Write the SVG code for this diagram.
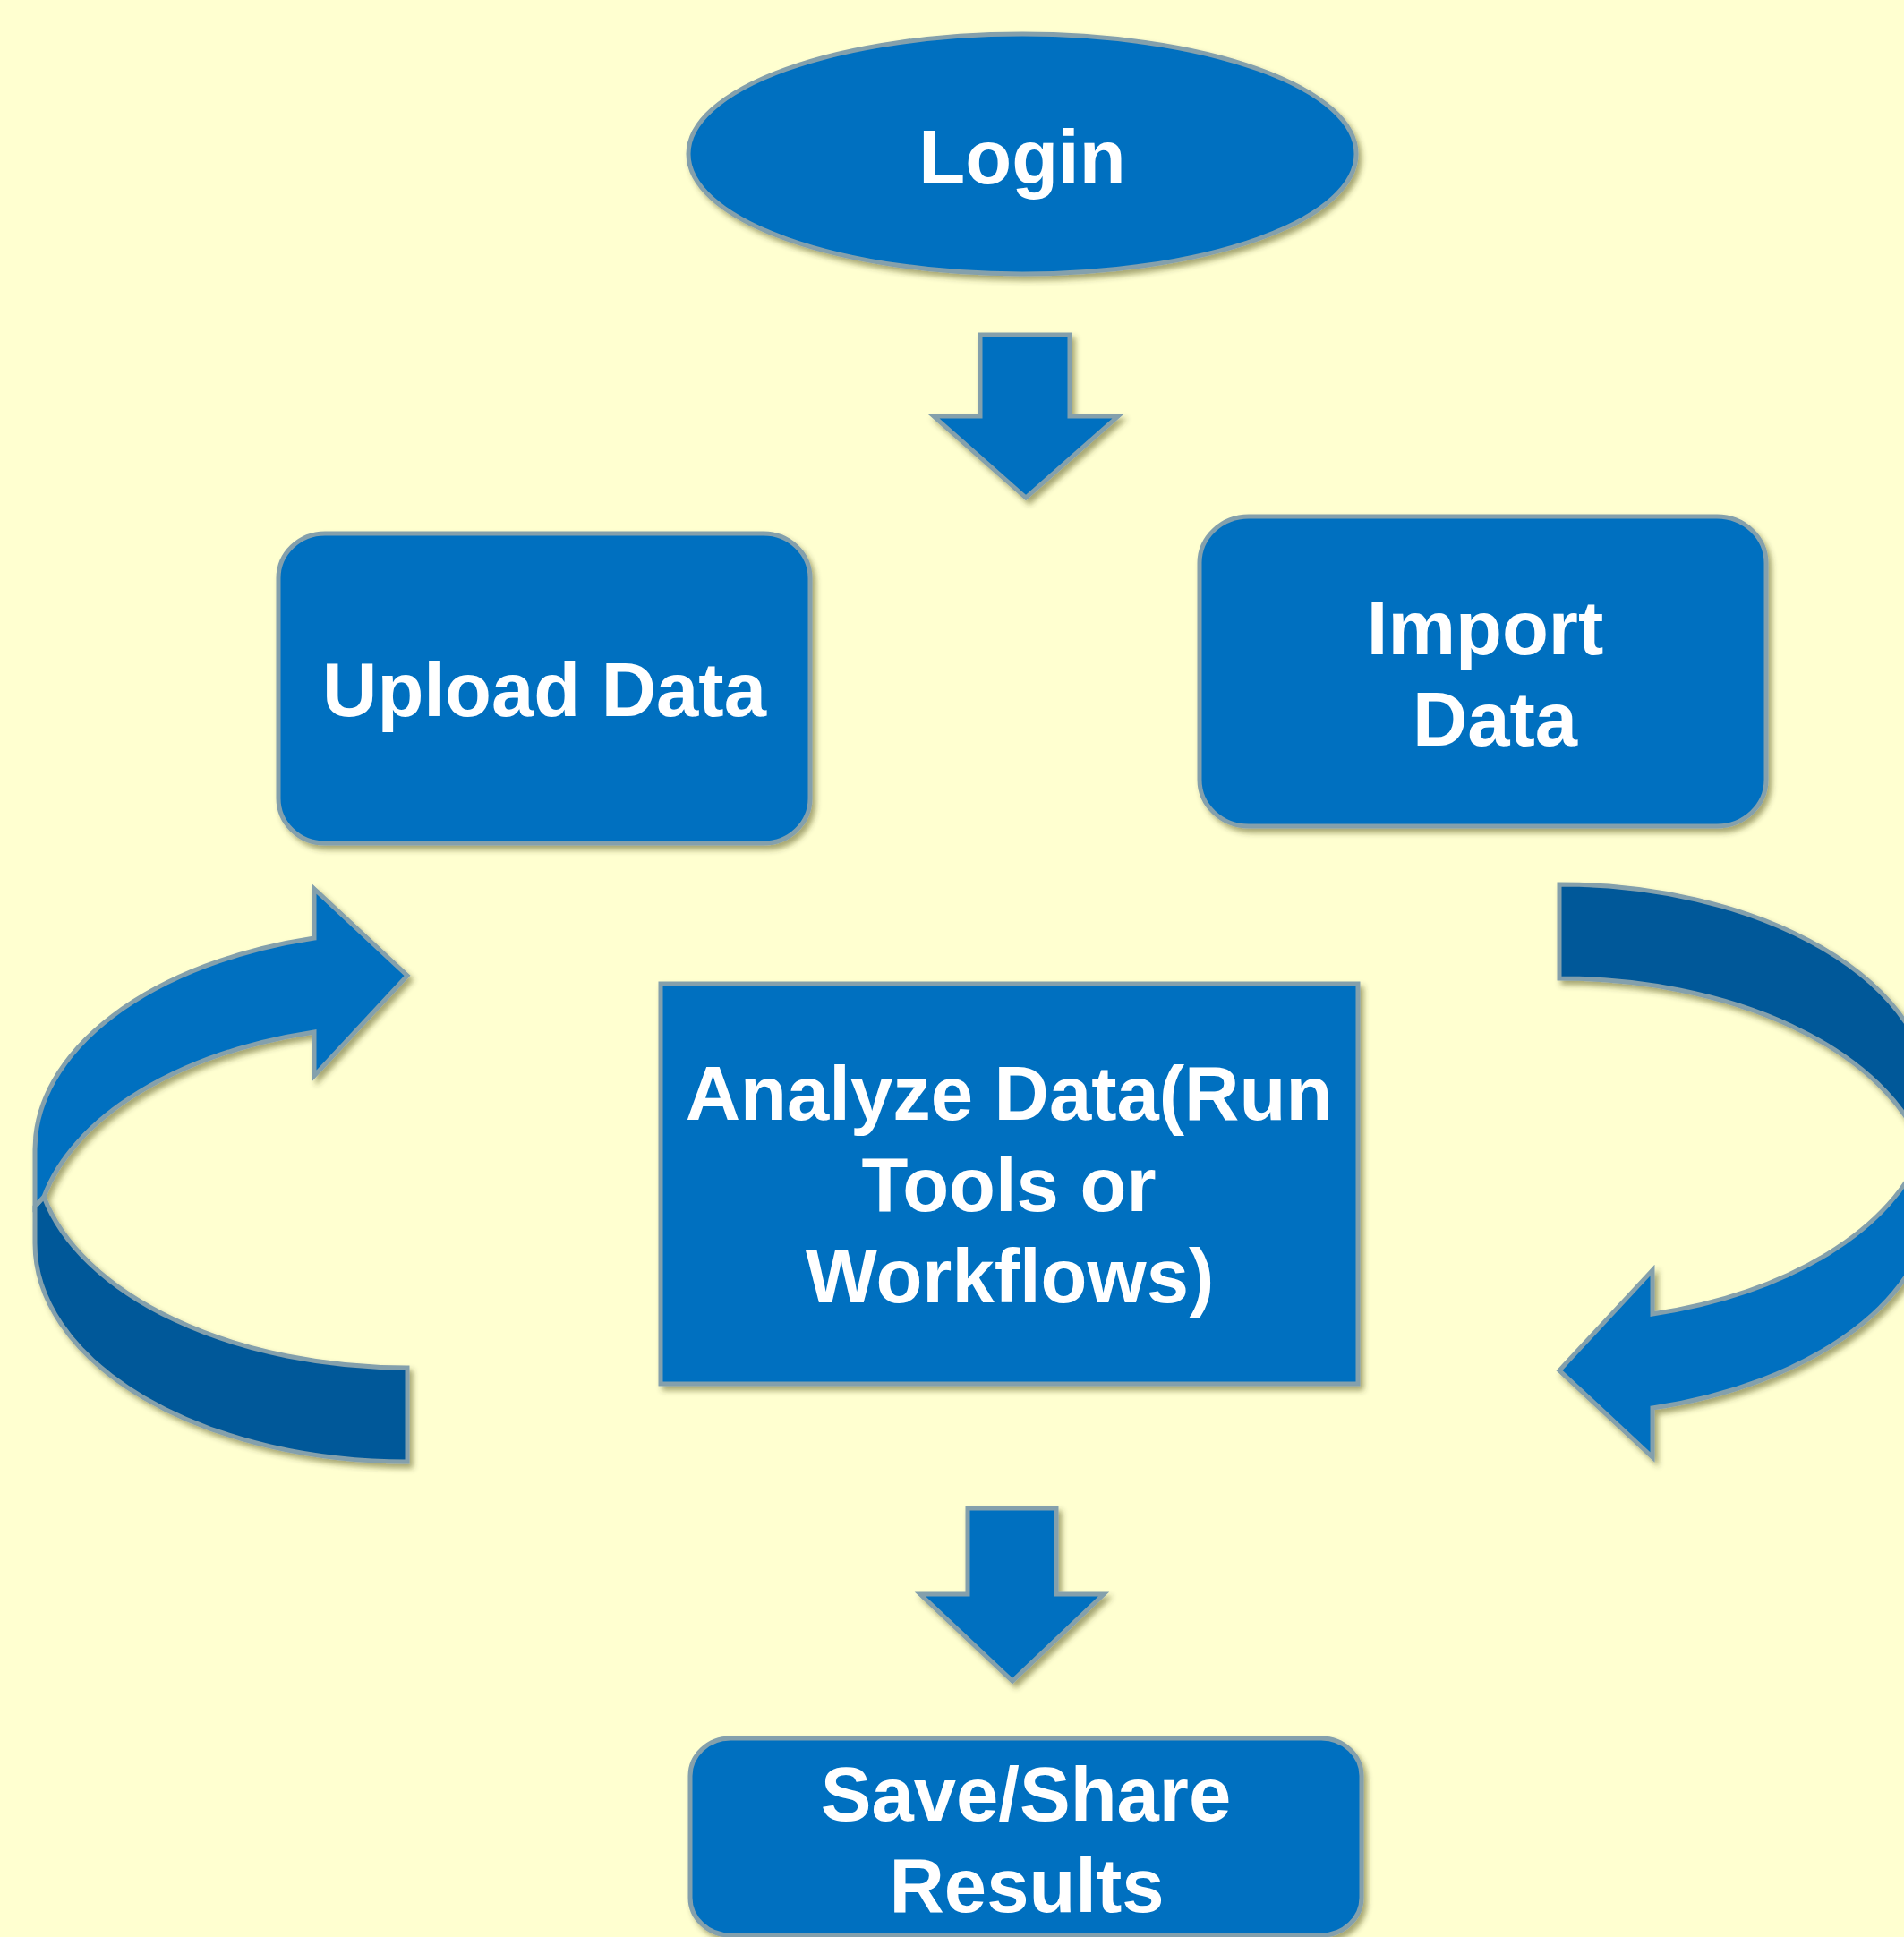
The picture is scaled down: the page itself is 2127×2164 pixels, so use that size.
<svg xmlns="http://www.w3.org/2000/svg" width="2127" height="2164" viewBox="0 0 2127 2164">
  <defs>
    <style>
      .node { fill: #0070C0; stroke: #84A0AC; stroke-width: 5; }
      .dark { fill: #025899; stroke: #84A0AC; stroke-width: 5; stroke-linejoin: miter; }
      .light { fill: #0070C0; stroke: #84A0AC; stroke-width: 5; stroke-linejoin: miter; }
      .lbl { fill: #FFFFFF; font-family: "Liberation Sans", Arial, sans-serif; font-weight: bold; font-size: 85px; text-anchor: middle; }
    </style>
    <filter id="sh" x="-10%" y="-10%" width="125%" height="125%">
      <feDropShadow dx="4" dy="5" stdDeviation="3" flood-color="#3a3a10" flood-opacity="0.45"/>
    </filter>
  </defs>

  <rect x="0" y="0" width="2127" height="2164" fill="#FFFFD0"/>

  <g id="connectors">
    <g id="arrow-login-down" filter="url(#sh)">
      <path class="light" d="M1095,374 L1195,374 L1195,465 L1249,465 L1146,556 L1043,465 L1095,465 Z"/>
    </g>
    <g id="arrow-analyze-down" filter="url(#sh)">
      <path class="light" d="M1081,1685 L1180,1685 L1180,1781 L1233,1781 L1131,1878 L1028,1781 L1081,1781 Z"/>
    </g>
    <g id="curved-left" filter="url(#sh)">
      <path class="dark" d="M49,1337 A416,244 0 0 0 455,1528 L455,1633 A416,244 0 0 1 39,1389 L39,1348 Z"/>
      <path class="light" d="M39,1348 L39,1284 A416,244 0 0 1 351,1048 L351,993 L455,1090 L351,1202 L351,1153 A416,244 0 0 0 49,1337 Z"/>
    </g>
    <g id="curved-right" filter="url(#sh)">
      <g transform="rotate(180 1098.5 1310.5)">
        <path class="dark" d="M49,1337 A416,244 0 0 0 455,1528 L455,1633 A416,244 0 0 1 39,1389 L39,1348 Z"/>
        <path class="light" d="M39,1348 L39,1284 A416,244 0 0 1 351,1048 L351,993 L455,1090 L351,1202 L351,1153 A416,244 0 0 0 49,1337 Z"/>
      </g>
    </g>
  </g>

  <g id="node-login" filter="url(#sh)">
    <ellipse class="node" cx="1142" cy="172" rx="373" ry="134"/>
    <text class="lbl" x="1142" y="205">Login</text>
  </g>

  <g id="node-upload" filter="url(#sh)">
    <rect class="node" x="311" y="596" width="594" height="346" rx="52" ry="50"/>
    <text class="lbl" x="608" y="800">Upload Data</text>
  </g>

  <g id="node-import" filter="url(#sh)">
    <rect class="node" x="1340" y="577" width="633" height="346" rx="55" ry="52"/>
    <text class="lbl" x="1659" y="731">Import</text>
    <text class="lbl" x="1670" y="833">Data</text>
  </g>

  <g id="node-analyze" filter="url(#sh)">
    <rect class="node" x="738" y="1099" width="779" height="447"/>
    <text class="lbl" x="1127" y="1251">Analyze Data(Run</text>
    <text class="lbl" x="1127" y="1353">Tools or</text>
    <text class="lbl" x="1128" y="1455">Workflows)</text>
  </g>

  <g id="node-save" filter="url(#sh)">
    <rect class="node" x="771" y="1942" width="750" height="220" rx="45" ry="42"/>
    <text class="lbl" x="1146" y="2034">Save/Share</text>
    <text class="lbl" x="1147" y="2136">Results</text>
  </g>
</svg>
